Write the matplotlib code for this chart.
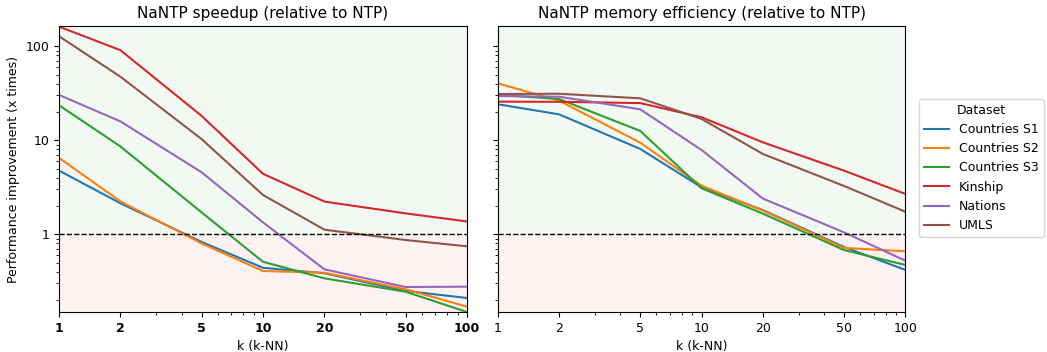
import numpy as np
import matplotlib.pyplot as plt
from matplotlib.ticker import FixedLocator, FixedFormatter, NullFormatter

k = [1, 2, 5, 10, 20, 50, 100]
datasets = ['Countries S1', 'Countries S2', 'Countries S3', 'Kinship', 'Nations', 'UMLS']
colors = ['#1f77b4', '#ff7f0e', '#2ca02c', '#d62728', '#9467bd', '#8c564b']

# speedup (x times)
speed_s1 = [4.76, 2.14, 0.83, 0.44, 0.385, 0.25, 0.21]
speed_s2 = [6.5, 2.24, 0.80, 0.407, 0.39, 0.26, 0.17]
speed_s3 = [23.6, 8.6, 1.71, 0.51, 0.34, 0.245, 0.149]
speed_kin = [162, 91, 18.2, 4.4, 2.23, 1.67, 1.37]
speed_nat = [30.4, 15.9, 4.57, 1.34, 0.424, 0.275, 0.277]
speed_umls = [128, 47.5, 10.3, 2.62, 1.12, 0.87, 0.745]

# memory efficiency (x times)
mem_s1 = [24.2, 18.9, 8.1, 3.16, 1.81, 0.733, 0.418]
mem_s2 = [40.4, 26.4, 9.44, 3.29, 1.79, 0.716, 0.66]
mem_s3 = [30.5, 27.5, 12.6, 3.09, 1.66, 0.68, 0.472]
mem_kin = [25.8, 25.7, 24.9, 17.6, 9.52, 4.76, 2.69]
mem_nat = [29.6, 29.1, 21.4, 7.89, 2.4, 1.05, 0.524]
mem_umls = [31.1, 31.3, 28.0, 16.9, 7.16, 3.27, 1.74]

speed = [speed_s1, speed_s2, speed_s3, speed_kin, speed_nat, speed_umls]
mem = [mem_s1, mem_s2, mem_s3, mem_kin, mem_nat, mem_umls]

ylo, yhi = 0.149, 163

fig = plt.figure(figsize=(10.47, 3.52), dpi=100)
ax1 = fig.add_axes([0.0564, 0.1136, 0.3896, 0.8114])
ax2 = fig.add_axes([0.4754, 0.1136, 0.3893, 0.8114], sharey=ax1)

for ax, data, title in [(ax1, speed, 'NaNTP speedup (relative to NTP)'),
                        (ax2, mem, 'NaNTP memory efficiency (relative to NTP)')]:
    ax.axhspan(1, yhi, color='g', alpha=0.05, lw=0)
    ax.axhspan(ylo, 1, color='r', alpha=0.05, lw=0)
    for d, name, c in zip(data, datasets, colors):
        ax.plot(k, d, color=c, label=name, lw=1.5)
    ax.axhline(1, color='k', ls='--', lw=1)
    ax.set_xscale('log')
    ax.set_yscale('log')
    ax.set_xlim(1, 100)
    ax.set_ylim(ylo, yhi)
    ax.xaxis.set_major_locator(FixedLocator(k))
    ax.xaxis.set_major_formatter(FixedFormatter([str(v) for v in k]))
    ax.xaxis.set_minor_formatter(NullFormatter())
    ax.set_xlabel('k (k-NN)', fontsize=9)
    ax.set_title(title, fontsize=11)
    ax.tick_params(labelsize=9)

ax1.yaxis.set_major_locator(FixedLocator([1, 10, 100]))
ax1.yaxis.set_major_formatter(FixedFormatter(['1', '10', '100']))
ax1.yaxis.set_minor_formatter(NullFormatter())
ax1.set_ylabel('Performance improvement (x times)', fontsize=9)
for lab in ax1.get_xticklabels():
    lab.set_fontweight('bold')
plt.setp(ax2.get_yticklabels(), visible=False)

h, l = ax1.get_legend_handles_labels()
fig.legend(h, l, title='Dataset', loc='center left', bbox_to_anchor=(0.872, 0.523),
           fontsize=9, title_fontsize=9)

fig.savefig('out.png', dpi=100)
